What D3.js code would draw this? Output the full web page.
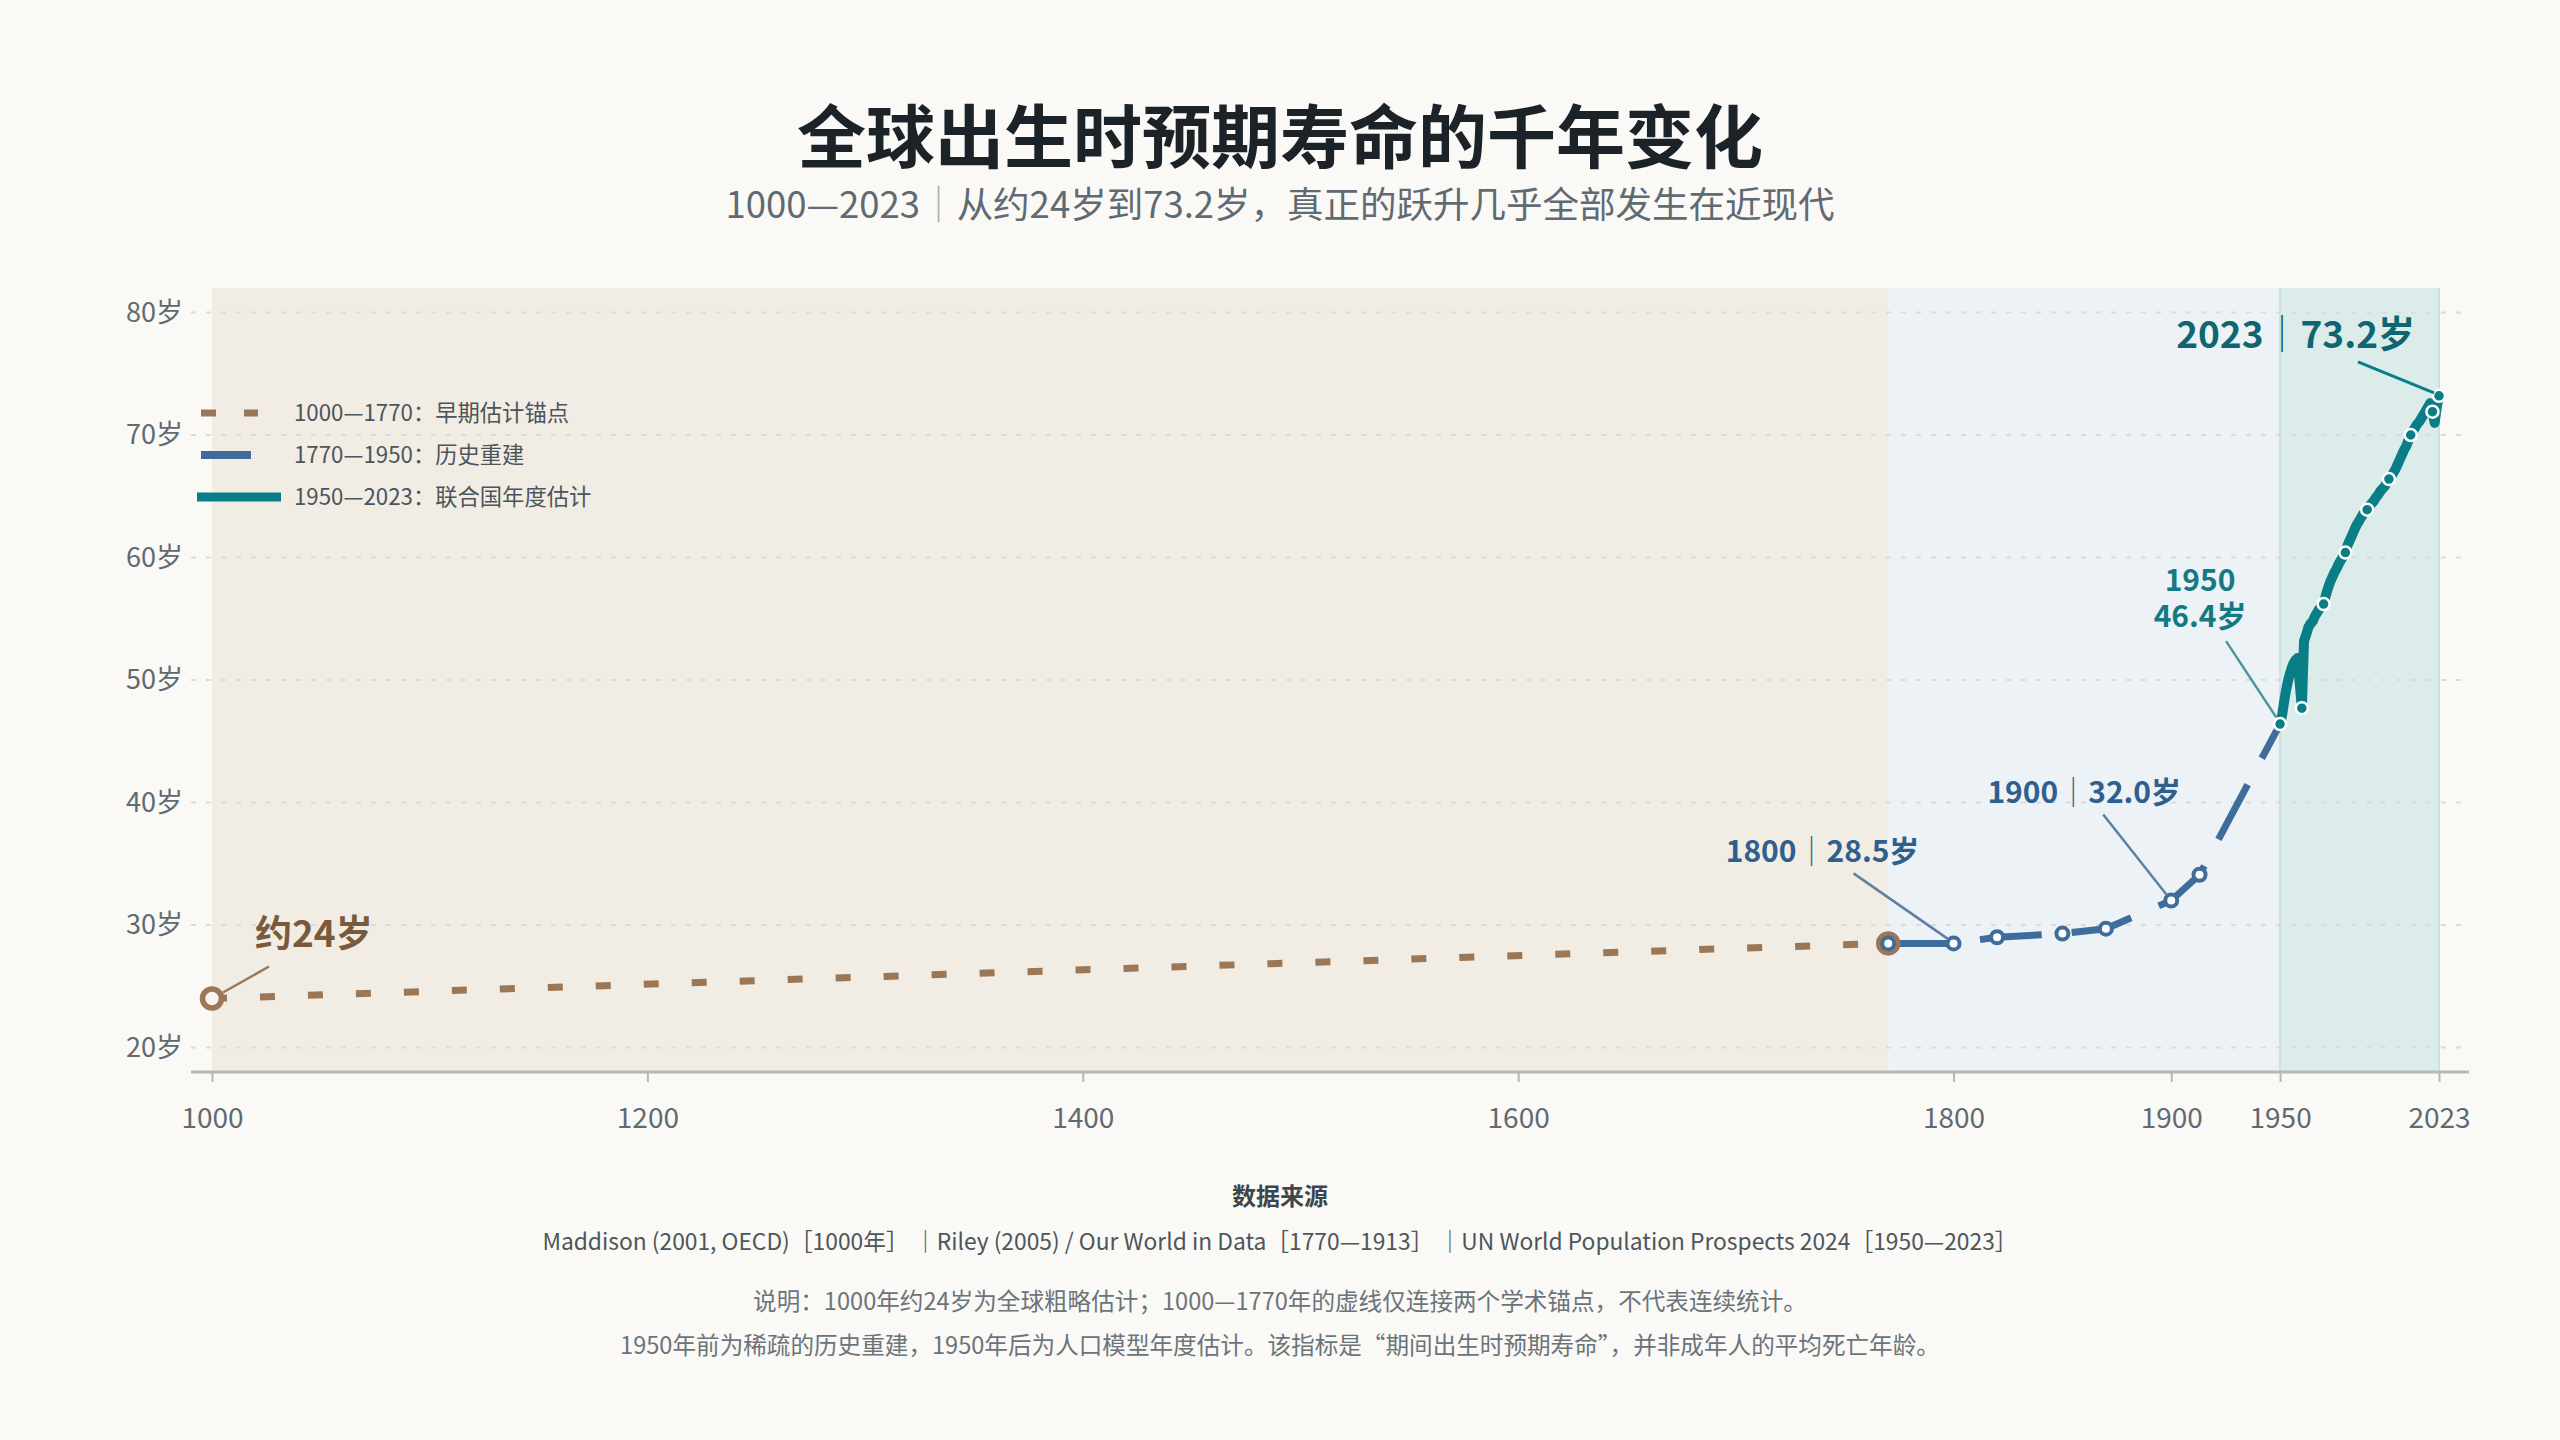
<!DOCTYPE html>
<html>
<head>
<meta charset="utf-8">
<script src="https://cdn.jsdelivr.net/npm/d3@7"></script>
<style>
  html, body { margin: 0; padding: 0; background: #faf9f5; }
  svg { display: block; font-family: "Noto Sans CJK SC", "Noto Sans", sans-serif; }
</style>
</head>
<body>
<svg id="chart" width="2560" height="1440"></svg>
<script>
// ---- data ----
const earlyYears = [1000, 1770];
const earlyValues = [24.0, 28.5];

const histYears = [1770, 1800, 1820, 1850, 1870, 1900, 1913, 1950];
const histValues = [28.5, 28.5, 29.0, 29.3, 29.7, 32.0, 34.1, 46.4];

const unYears = d3.range(1950, 2024);
const unValues = [
    46.4, 47.2, 48.4, 49.4, 50.2, 50.8, 51.3, 51.6, 51.8, 49.8,
    47.7, 53.2, 53.7, 54.3, 54.6, 54.8, 55.2, 55.5, 55.8, 56.0,
    56.2, 56.9, 57.5, 58.0, 58.4, 58.8, 59.1, 59.5, 59.8, 60.1,
    60.4, 61.0, 61.4, 61.8, 62.2, 62.6, 62.9, 63.2, 63.5, 63.7,
    63.9, 64.2, 64.4, 64.6, 64.9, 65.1, 65.4, 65.6, 65.8, 66.1,
    66.4, 66.6, 66.9, 67.2, 67.6, 68.0, 68.4, 68.8, 69.1, 69.6,
    70.0, 70.3, 70.6, 70.9, 71.1, 71.4, 71.7, 72.0, 72.3, 72.6,
    71.9, 71.0, 72.3, 73.2
];
const unMarkerYears = [1950, 1960, 1970, 1980, 1990, 2000, 2010, 2020, 2023];

const xTicks = [1000, 1200, 1400, 1600, 1800, 1900, 1950, 2023];
const yTicks = [20, 30, 40, 50, 60, 70, 80];

const legendLabels = ["1000—1770：早期估计锚点", "1770—1950：历史重建", "1950—2023：联合国年度估计"];

const titleText = "全球出生时预期寿命的千年变化";
const subtitleParts = ["1000—2023", "｜", "从约24岁到73.2岁，真正的跃升几乎全部发生在近现代"];
const sourceTitle = "数据来源";
const sourceText = "Maddison (2001, OECD)［1000年］ ｜Riley (2005) / Our World in Data［1770—1913］ ｜UN World Population Prospects 2024［1950—2023］";
const noteLines = [
    "说明：1000年约24岁为全球粗略估计；1000—1770年的虚线仅连接两个学术锚点，不代表连续统计。",
    "1950年前为稀疏的历史重建，1950年后为人口模型年度估计。该指标是“期间出生时预期寿命”，并非成年人的平均死亡年龄。"
];

// ---- colours ----
const C = {
    bg: "#faf9f5",
    early: "#9b7756", earlyText: "#7a5a3d", earlyBand: "#f1ece4",
    hist: "#3e6d9c", histText: "#2f5f8c", histLeader: "#5d80a2", histBand: "#ecf2f5",
    un: "#0a7e87", unText: "#0f6670", unText2: "#137a83", unLeader: "#4b969c", unBand: "#dcecea",
    grid: "#d9dcdc", axis: "#b3b8bb", tick: "#5f6a72"
};

const svg = d3.select("#chart");
const W = 2560;

const x = d3.scaleLinear().domain([1000, 2023]).range([212, 2439]);
const y = d3.scaleLinear().domain([18, 82]).range([1072, 288]);
const plotLeft = 191, plotRight = 2469;

svg.append("rect").attr("width", W).attr("height", 1440).attr("fill", C.bg);

// ---- title ----
svg.append("text")
    .attr("x", W / 2).attr("y", 163)
    .attr("text-anchor", "middle")
    .style("font-size", "69px").style("font-weight", 700)
    .attr("fill", "#1b2328")
    .text(titleText);

const sub = svg.append("text")
    .attr("x", W / 2).attr("y", 218)
    .attr("text-anchor", "middle")
    .style("font-size", "36.5px")
    .attr("fill", "#5f6a72");
sub.append("tspan").text(subtitleParts[0]);
sub.append("tspan").attr("fill", "#a9b0b4").text(subtitleParts[1]);
sub.append("tspan").text(subtitleParts[2]);

// ---- era bands ----
const bands = [
    { from: 1000, to: 1770, fill: C.earlyBand },
    { from: 1770, to: 1950, fill: C.histBand },
    { from: 1950, to: 2023, fill: C.unBand }
];
svg.append("g").selectAll("rect")
    .data(bands)
    .enter().append("rect")
    .attr("x", d => x(d.from))
    .attr("width", d => x(d.to) - x(d.from))
    .attr("y", y(82))
    .attr("height", y(18) - y(82))
    .attr("fill", d => d.fill);

svg.append("g").selectAll("line")
    .data([1950, 2023])
    .enter().append("line")
    .attr("x1", d => x(d)).attr("x2", d => x(d))
    .attr("y1", y(82)).attr("y2", y(18))
    .attr("stroke", "#c9e1df").attr("stroke-width", 2);

// ---- grid ----
svg.append("g").selectAll("line")
    .data(yTicks)
    .enter().append("line")
    .attr("x1", plotLeft).attr("x2", plotRight)
    .attr("y1", d => y(d)).attr("y2", d => y(d))
    .attr("stroke", C.grid).attr("stroke-width", 2)
    .attr("stroke-dasharray", "5 10");

// ---- axes ----
const xAxis = d3.axisBottom(x)
    .tickValues(xTicks)
    .tickFormat(d3.format("d"))
    .tickSize(10)
    .tickPadding(26);

const gx = svg.append("g")
    .attr("transform", `translate(0,${y(18)})`)
    .call(xAxis);
gx.select(".domain").remove();
gx.selectAll(".tick line").attr("stroke", C.axis).attr("stroke-width", 2);
gx.selectAll(".tick text")
    .attr("fill", C.tick)
    .style("font-size", "28px")
    .style("font-family", "\"Noto Sans CJK SC\", \"Noto Sans\", sans-serif");

svg.append("line")
    .attr("x1", plotLeft).attr("x2", plotRight)
    .attr("y1", y(18)).attr("y2", y(18))
    .attr("stroke", C.axis).attr("stroke-width", 3);

const yAxis = d3.axisLeft(y)
    .tickValues(yTicks)
    .tickFormat(d => d + "岁")
    .tickSize(0)
    .tickPadding(8);

const gy = svg.append("g")
    .attr("transform", `translate(${plotLeft},0)`)
    .call(yAxis);
gy.select(".domain").remove();
gy.selectAll(".tick text")
    .attr("fill", C.tick)
    .style("font-size", "27px")
    .style("font-family", "\"Noto Sans CJK SC\", \"Noto Sans\", sans-serif");

// ---- lines ----
const line = d3.line()
    .x(d => x(d.year))
    .y(d => y(d.value));

const zip = (years, values) => years.map((yr, i) => ({ year: yr, value: values[i] }));
const early = zip(earlyYears, earlyValues);
const hist = zip(histYears, histValues);
const un = zip(unYears, unValues);

svg.append("path")
    .datum(early)
    .attr("d", line)
    .attr("fill", "none")
    .attr("stroke", C.early)
    .attr("stroke-width", 7)
    .attr("stroke-dasharray", "15 33");

svg.append("path")
    .datum(hist)
    .attr("d", line)
    .attr("fill", "none")
    .attr("stroke", C.hist)
    .attr("stroke-width", 7)
    .attr("stroke-linejoin", "round")
    .attr("stroke-dasharray", "62 30");

svg.append("path")
    .datum(un)
    .attr("d", line)
    .attr("fill", "none")
    .attr("stroke", C.un)
    .attr("stroke-width", 10)
    .attr("stroke-linejoin", "round")
    .attr("stroke-linecap", "round");

// ---- point markers ----
svg.append("g").selectAll("circle")
    .data(early)
    .enter().append("circle")
    .attr("cx", d => x(d.year)).attr("cy", d => y(d.value))
    .attr("r", 9.5)
    .attr("fill", "#f8f4ee")
    .attr("stroke", C.early).attr("stroke-width", 5.5);

svg.append("g").selectAll("circle")
    .data(hist.filter(d => d.year < 1950))
    .enter().append("circle")
    .attr("cx", d => x(d.year)).attr("cy", d => y(d.value))
    .attr("r", 6)
    .attr("fill", "#ffffff")
    .attr("stroke", C.hist).attr("stroke-width", 4);

svg.append("g").selectAll("circle")
    .data(un.filter(d => unMarkerYears.includes(d.year)))
    .enter().append("circle")
    .attr("cx", d => x(d.year)).attr("cy", d => y(d.value))
    .attr("r", 6)
    .attr("fill", C.un)
    .attr("stroke", "#ffffff").attr("stroke-width", 2.5);

// ---- annotations ----
function leader(year, value, x1, y1, x2, y2, color, width) {
    const px = x(year), py = y(value);
    svg.append("line")
        .attr("x1", px + x1).attr("y1", py + y1)
        .attr("x2", px + x2).attr("y2", py + y2)
        .attr("stroke", color).attr("stroke-width", width);
}

function pairLabel(year, value, dx, dy, anchor, size, color, left, right) {
    const t = svg.append("text")
        .attr("x", x(year) + dx).attr("y", y(value) + dy)
        .attr("text-anchor", anchor)
        .style("font-size", size + "px").style("font-weight", 700)
        .attr("fill", color);
    t.append("tspan").text(left);
    t.append("tspan").style("font-weight", 400).text("｜");
    t.append("tspan").text(right);
}

// 1000
leader(1000, 24, 11, -6, 57, -32, C.early, 2.5);
svg.append("text")
    .attr("x", x(1000) + 43).attr("y", y(24) - 52)
    .style("font-size", "37px").style("font-weight", 700)
    .attr("fill", C.earlyText)
    .text("约24岁");

// 1800
leader(1800, 28.5, -100, -70, -5, -4, C.histLeader, 2.5);
pairLabel(1800, 28.5, -131, -81, "middle", 30, C.histText, "1800", d3.format(".1f")(28.5) + "岁");

// 1900
leader(1900, 32.0, -68, -86, -4, -5, C.histLeader, 2.5);
pairLabel(1900, 32.0, -87, -98, "middle", 30, C.histText, "1900", d3.format(".1f")(32.0) + "岁");

// 1950 (two lines)
leader(1950, 46.4, -54, -83, -4, -7, C.unLeader, 2.5);
svg.append("text")
    .attr("x", x(1950) - 80).attr("y", y(46.4) - 133)
    .attr("text-anchor", "middle")
    .style("font-size", "30px").style("font-weight", 700)
    .attr("fill", C.unText2)
    .text("1950");
svg.append("text")
    .attr("x", x(1950) - 80).attr("y", y(46.4) - 97)
    .attr("text-anchor", "middle")
    .style("font-size", "30px").style("font-weight", 700)
    .attr("fill", C.unText2)
    .text(d3.format(".1f")(46.4) + "岁");

// 2023
leader(2023, 73.2, -81, -34, -5, -3, C.un, 3);
pairLabel(2023, 73.2, -24, -48, "end", 37, C.unText, "2023", d3.format(".1f")(73.2) + "岁");

// ---- legend ----
const legend = svg.append("g");
const legendRows = [
    { color: C.early, width: 7, dash: "15 28", x1: 201, x2: 258 },
    { color: C.hist, width: 8, dash: null, x1: 201, x2: 251 },
    { color: C.un, width: 9, dash: null, x1: 197, x2: 281 }
];
legendRows.forEach((r, i) => {
    const ly = 413 + i * 42;
    legend.append("line")
        .attr("x1", r.x1).attr("x2", r.x2)
        .attr("y1", ly).attr("y2", ly)
        .attr("stroke", r.color).attr("stroke-width", r.width)
        .attr("stroke-dasharray", r.dash);
    legend.append("text")
        .attr("x", 294).attr("y", ly)
        .attr("dy", "0.35em")
        .style("font-size", "22.3px")
        .attr("fill", "#4b555b")
        .text(legendLabels[i]);
});

// ---- footer ----
svg.append("text")
    .attr("x", W / 2).attr("y", 1205)
    .attr("text-anchor", "middle")
    .style("font-size", "24px").style("font-weight", 700)
    .attr("fill", "#3d464c")
    .text(sourceTitle);

svg.append("text")
    .attr("x", W / 2).attr("y", 1250)
    .attr("text-anchor", "middle")
    .style("font-size", "22.8px")
    .attr("fill", "#4c565c")
    .text(sourceText);

svg.append("g").selectAll("text")
    .data(noteLines)
    .enter().append("text")
    .attr("x", W / 2)
    .attr("y", (d, i) => 1310 + i * 44)
    .attr("text-anchor", "middle")
    .style("font-size", "23.6px")
    .attr("fill", "#6a747a")
    .text(d => d);
</script>
</body>
</html>
